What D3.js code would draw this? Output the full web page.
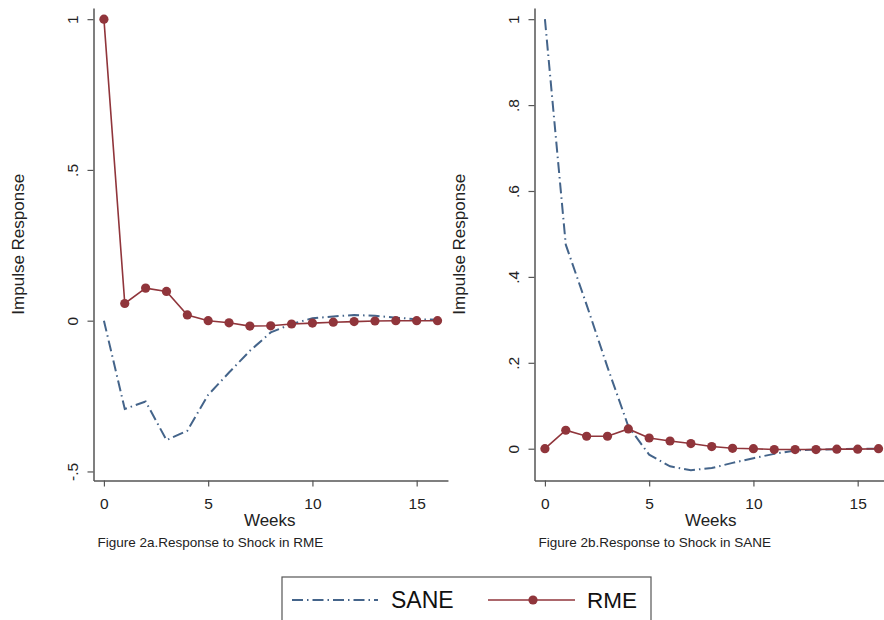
<!DOCTYPE html>
<html>
<head>
<meta charset="utf-8">
<script src="https://cdn.jsdelivr.net/npm/d3@7"></script>
<style>
  body { margin: 0; background: #fff; }
  svg { font-family: "Liberation Sans", Arial, sans-serif; }
</style>
</head>
<body>
<svg id="chart" width="884" height="620"></svg>
<script>
// Impulse responses, weeks 0..16
const weeks = d3.range(0, 17);

// Figure 2a: shock in RME
const rmeA = [1.0, 0.057, 0.108, 0.097, 0.019, 0.0, -0.007, -0.018, -0.017, -0.011, -0.008, -0.005, -0.003, -0.001, 0.0, 0.0, 0.0];
const saneA = [0.0, -0.293, -0.268, -0.396, -0.365, -0.246, -0.172, -0.100, -0.039, -0.011, 0.008, 0.014, 0.019, 0.016, 0.010, 0.005, 0.003];

// Figure 2b: shock in SANE
const rmeB = [0.0, 0.043, 0.029, 0.029, 0.046, 0.025, 0.018, 0.012, 0.005, 0.001, 0.0, -0.002, -0.002, -0.002, -0.001, -0.001, 0.0];
const saneB = [1.0, 0.475, 0.335, 0.19, 0.052, -0.014, -0.041, -0.050, -0.045, -0.033, -0.022, -0.012, -0.004, -0.002, -0.001, 0.0, 0.0];

const xTicks = [0, 5, 10, 15];
const yTicksA = [-0.5, 0, 0.5, 1];
const yTicksB = [0, 0.2, 0.4, 0.6, 0.8, 1];

const SANE_COLOR = "#44648a";
const RME_COLOR = "#90353b";
const AXIS_COLOR = "#555";
const SANE_DASH = "11,4,1.5,4";

const svg = d3.select("#chart");

// strip leading zero like Stata does: .5, -.5
const fmt = v => v === 0 ? "0" : String(v).replace(/^(-?)0\./, "$1.");

function drawPanel(opts) {
  const g = svg.append("g");
  const x = d3.scaleLinear().domain([-0.5, 16.5]).range([opts.left, opts.left + 17 * 20.85]);
  const y = d3.scaleLinear().domain(opts.yDomain).range([opts.bottom, 8]);

  // x axis
  const xa = g.append("g")
    .attr("transform", `translate(0,${opts.bottom})`)
    .call(d3.axisBottom(x).tickValues(xTicks).tickSize(6).tickSizeOuter(0).tickPadding(11));
  // y axis
  const ya = g.append("g")
    .attr("transform", `translate(${opts.left},0)`)
    .call(d3.axisLeft(y).tickValues(opts.yTicks).tickFormat(fmt).tickSize(6).tickSizeOuter(0));

  [xa, ya].forEach(a => {
    a.selectAll("path.domain").attr("stroke", AXIS_COLOR).attr("stroke-width", 1.5);
    a.selectAll(".tick line").attr("stroke", AXIS_COLOR).attr("stroke-width", 1.2);
    a.selectAll(".tick text").attr("fill", "#222").style("font-size", "15.5px")
      .style("font-family", "'Liberation Sans', Arial, sans-serif");
  });
  ya.selectAll(".tick text")
    .attr("text-anchor", "middle")
    .attr("x", null)
    .attr("transform", "translate(-21,0) rotate(-90)")
    .attr("dy", "0.35em");

  // axis titles
  g.append("text")
    .attr("x", (opts.left + x.range()[1]) / 2 - 1)
    .attr("y", opts.bottom + 45)
    .attr("text-anchor", "middle")
    .style("font-size", "17px").attr("fill", "#222")
    .text("Weeks");
  g.append("text")
    .attr("transform", `translate(${opts.left - 70},${(opts.bottom + 8) / 2}) rotate(-90)`)
    .attr("text-anchor", "middle")
    .style("font-size", "17px").attr("fill", "#222")
    .text("Impulse Response");
  g.append("text")
    .attr("x", opts.left + 4)
    .attr("y", opts.bottom + 66)
    .style("font-size", "13.5px").attr("fill", "#222")
    .text(opts.caption);

  const line = vals => d3.line().x((d, i) => x(weeks[i])).y(d => y(d))(vals);

  g.append("path")
    .attr("d", line(opts.sane))
    .attr("fill", "none")
    .attr("stroke", SANE_COLOR)
    .attr("stroke-width", 2)
    .attr("stroke-dasharray", SANE_DASH);

  g.append("path")
    .attr("d", line(opts.rme))
    .attr("fill", "none")
    .attr("stroke", RME_COLOR)
    .attr("stroke-width", 1.6);

  g.selectAll("circle.rme")
    .data(opts.rme)
    .join("circle")
    .attr("class", "rme")
    .attr("cx", (d, i) => x(weeks[i]))
    .attr("cy", d => y(d))
    .attr("r", 4.6)
    .attr("fill", RME_COLOR);
}

drawPanel({ left: 93.5, bottom: 480.5, yDomain: [-0.53, 1.037], yTicks: yTicksA,
  rme: rmeA, sane: saneA, caption: "Figure 2a.Response to Shock in RME" });
drawPanel({ left: 534.5, bottom: 480.5, yDomain: [-0.074, 1.026], yTicks: yTicksB,
  rme: rmeB, sane: saneB, caption: "Figure 2b.Response to Shock in SANE" });

// legend
const leg = svg.append("g");
leg.append("rect")
  .attr("x", 282).attr("y", 577).attr("width", 369).attr("height", 50)
  .attr("fill", "#fff").attr("stroke", AXIS_COLOR).attr("stroke-width", 1.2);
leg.append("line")
  .attr("x1", 292).attr("x2", 378).attr("y1", 600).attr("y2", 600)
  .attr("stroke", SANE_COLOR).attr("stroke-width", 2).attr("stroke-dasharray", SANE_DASH);
leg.append("text")
  .attr("x", 391).attr("y", 608).style("font-size", "23px").attr("fill", "#111").text("SANE");
leg.append("line")
  .attr("x1", 488).attr("x2", 575).attr("y1", 600).attr("y2", 600)
  .attr("stroke", RME_COLOR).attr("stroke-width", 1.6);
leg.append("circle")
  .attr("cx", 533).attr("cy", 600).attr("r", 4.6).attr("fill", RME_COLOR);
leg.append("text")
  .attr("x", 587).attr("y", 608).style("font-size", "22.5px").attr("fill", "#111").text("RME");
</script>
</body>
</html>
